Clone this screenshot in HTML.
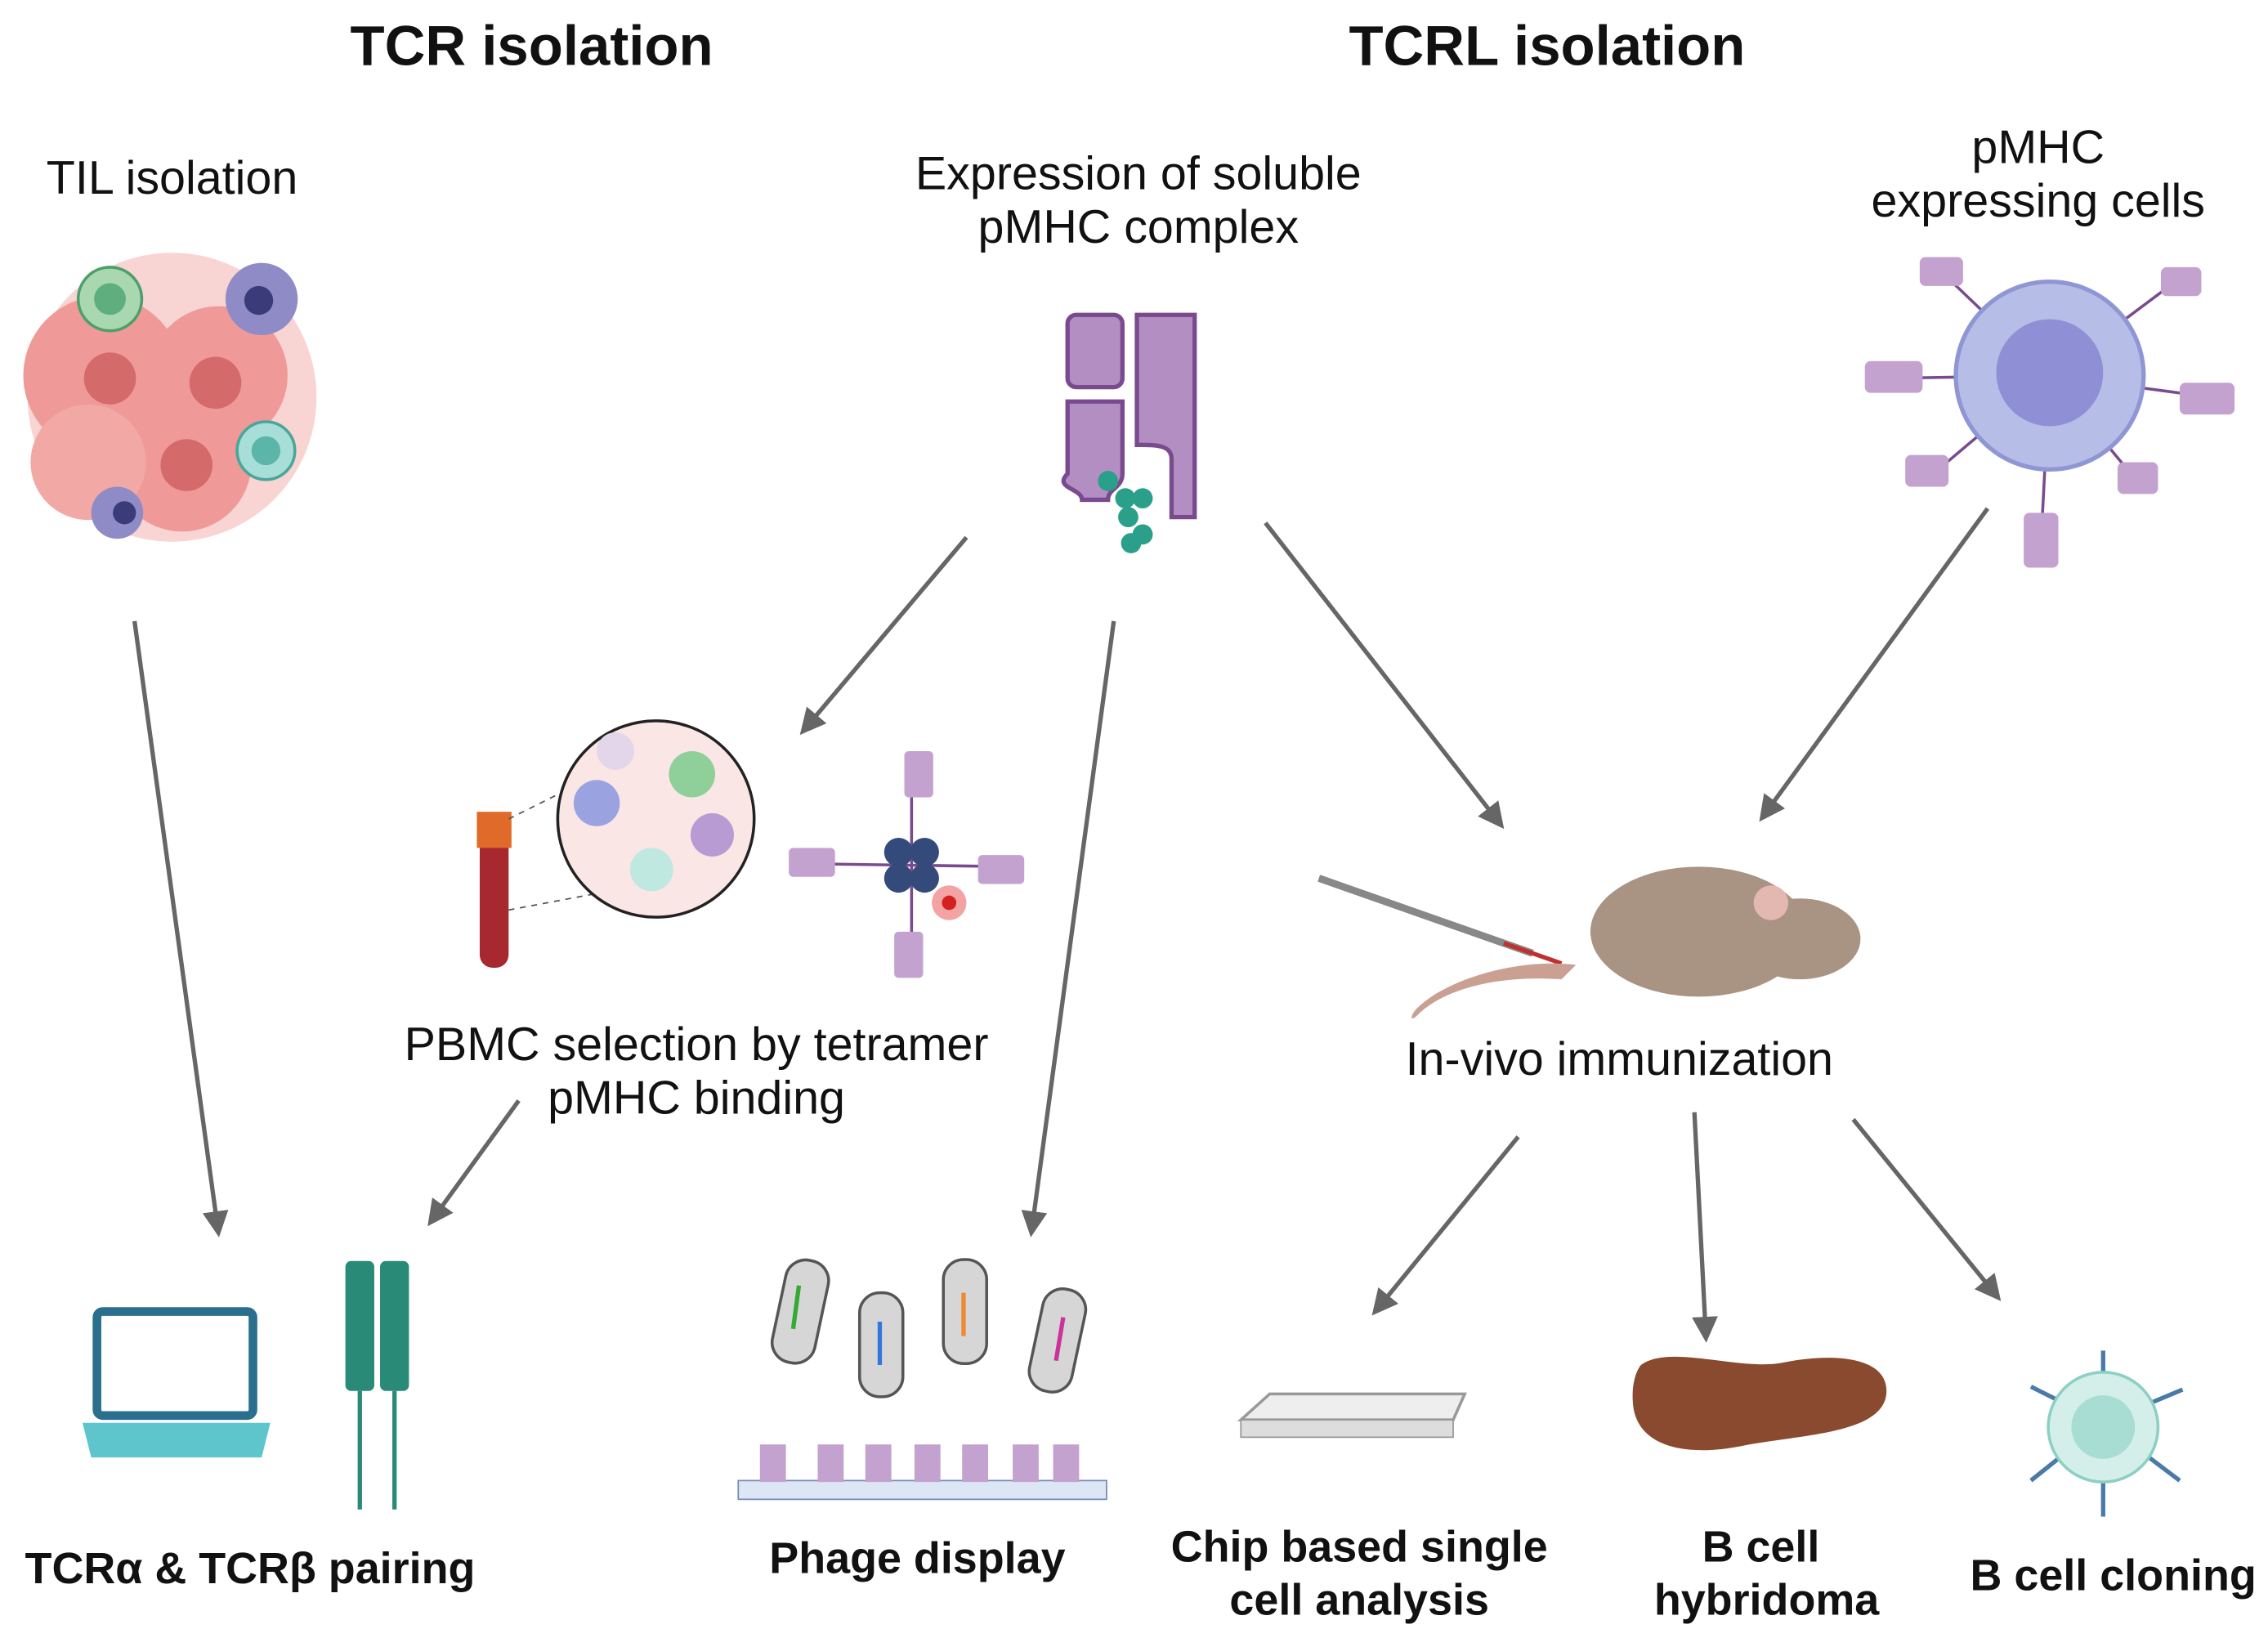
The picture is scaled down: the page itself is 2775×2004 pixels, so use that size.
<!DOCTYPE html>
<html><head><meta charset="utf-8"><style>
html,body{margin:0;padding:0;background:#fff}
svg{display:block}
text{font-family:"Liberation Sans",sans-serif;fill:#111}
.t{font-weight:bold;font-size:39px}
.l{font-size:32.5px}
.b{font-weight:bold;font-size:30.5px}
</style></head><body>
<svg width="2775" height="2004" viewBox="0 0 1568 1134" xmlns="http://www.w3.org/2000/svg">
<defs>
<marker id="a" viewBox="0 0 10 10" refX="8" refY="5" markerWidth="6" markerHeight="6" orient="auto"><path d="M0,0L10,5L0,10z" fill="#666"/></marker>
</defs>
<text class="t" x="367" y="45" text-anchor="middle">TCR isolation</text>
<text class="t" x="1070" y="45" text-anchor="middle">TCRL isolation</text>
<text class="l" x="118" y="134" text-anchor="middle">TIL isolation</text>
<text class="l" x="787" y="131" text-anchor="middle">Expression of soluble</text>
<text class="l" x="787" y="168" text-anchor="middle">pMHC complex</text>
<text class="l" x="1410" y="113" text-anchor="middle">pMHC</text>
<text class="l" x="1410" y="150" text-anchor="middle">expressing cells</text>
<text class="l" x="481" y="734" text-anchor="middle">PBMC selection by tetramer</text>
<text class="l" x="481" y="771" text-anchor="middle">pMHC binding</text>
<text class="l" x="1120" y="744" text-anchor="middle">In-vivo immunization</text>
<text class="b" x="172" y="1096" text-anchor="middle">TCRα &amp; TCRβ pairing</text>
<text class="b" x="634" y="1089" text-anchor="middle">Phage display</text>
<text class="b" x="940" y="1081" text-anchor="middle">Chip based single</text>
<text class="b" x="940" y="1118" text-anchor="middle">cell analysis</text>
<text class="b" x="1218" y="1081" text-anchor="middle">B cell</text>
<text class="b" x="1222" y="1118" text-anchor="middle">hybridoma</text>
<text class="b" x="1462" y="1101" text-anchor="middle">B cell cloning</text>
<g stroke="#666" stroke-width="3" fill="none" marker-end="url(#a)">
<line x1="92" y1="430" x2="150" y2="853"/>
<line x1="668" y1="372" x2="555" y2="506"/>
<line x1="770" y1="430" x2="713" y2="853"/>
<line x1="875" y1="362" x2="1038" y2="571"/>
<line x1="1375" y1="352" x2="1219" y2="566"/>
<line x1="358" y1="762" x2="297" y2="846"/>
<line x1="1050" y1="787" x2="951" y2="908"/>
<line x1="1172" y1="770" x2="1180" y2="926"/>
<line x1="1282" y1="775" x2="1382" y2="898"/>
</g>
<!-- tumor -->
<g>
<circle cx="118" cy="275" r="100" fill="#f4b7b4" opacity=".6"/>
<circle cx="70" cy="260" r="55" fill="#ef9a98"/><circle cx="150" cy="260" r="48" fill="#ef9a98"/>
<circle cx="125" cy="320" r="48" fill="#ef9a98"/><circle cx="60" cy="320" r="40" fill="#f2a8a5"/>
<circle cx="75" cy="262" r="18" fill="#d46a6a"/><circle cx="148" cy="265" r="18" fill="#d46a6a"/><circle cx="128" cy="322" r="18" fill="#d46a6a"/>
<circle cx="75" cy="207" r="22" fill="#a9d8b0" stroke="#4d9e6b" stroke-width="2"/><circle cx="75" cy="207" r="11" fill="#5fae7d"/>
<circle cx="180" cy="207" r="25" fill="#8e8bc6"/><circle cx="178" cy="208" r="10" fill="#3c3b7a"/>
<circle cx="183" cy="312" r="20" fill="#a8ded8" stroke="#4ba59a" stroke-width="2"/><circle cx="183" cy="312" r="10" fill="#5bb5a9"/>
<circle cx="80" cy="355" r="18" fill="#8e8bc6"/><circle cx="85" cy="355" r="8" fill="#3c3b7a"/>
</g>
<!-- pMHC complex -->
<g fill="#b38ec2" stroke="#7a4a8e" stroke-width="3">
<rect x="738" y="218" width="38" height="50" rx="6"/>
<path d="M738,278h38v50c0,10 -10,10 -10,18h-18c0,-8 -20,-8 -10,-18z" />
<path d="M786,218h40v140h-16v-40c0,-10 -10,-10 -24,-10z"/>
</g>
<g fill="#2aa08a"><circle cx="766" cy="333" r="7"/><circle cx="778" cy="345" r="7"/><circle cx="790" cy="345" r="7"/><circle cx="780" cy="358" r="7"/><circle cx="790" cy="370" r="7"/><circle cx="782" cy="376" r="7"/></g>
<!-- pMHC cell -->
<g stroke="#7a4a8e" stroke-width="2">
<line x1="1418" y1="260" x2="1345" y2="190"/><line x1="1418" y1="260" x2="1505" y2="195"/>
<line x1="1418" y1="260" x2="1300" y2="262"/><line x1="1418" y1="260" x2="1530" y2="275"/>
<line x1="1418" y1="260" x2="1335" y2="330"/><line x1="1418" y1="260" x2="1480" y2="335"/>
<line x1="1418" y1="260" x2="1412" y2="375"/>
</g>
<g fill="#c4a2d0">
<rect x="1328" y="178" width="30" height="20" rx="4"/><rect x="1495" y="185" width="28" height="20" rx="4"/>
<rect x="1290" y="250" width="40" height="22" rx="4"/><rect x="1508" y="265" width="38" height="22" rx="4"/>
<rect x="1318" y="315" width="30" height="22" rx="4"/><rect x="1465" y="320" width="28" height="22" rx="4"/>
<rect x="1400" y="355" width="24" height="38" rx="4"/>
</g>
<circle cx="1418" cy="260" r="65" fill="#b6bde6" stroke="#8f96d4" stroke-width="3"/>
<circle cx="1418" cy="258" r="37" fill="#8f8fd6"/>
<!-- blood tube + pbmc -->
<rect x="331" y="565" width="20" height="105" rx="9" fill="#a7282e"/>
<rect x="329" y="562" width="24" height="25" fill="#e06a2a"/>
<line x1="351" y1="567" x2="395" y2="545" stroke="#555" stroke-dasharray="4,4"/>
<line x1="351" y1="630" x2="415" y2="618" stroke="#555" stroke-dasharray="4,4"/>
<circle cx="453" cy="567" r="68" fill="#fbe6e6" stroke="#222" stroke-width="2"/>
<circle cx="412" cy="556" r="16" fill="#9aa3e0"/><circle cx="478" cy="536" r="16" fill="#8fcf9a"/>
<circle cx="492" cy="578" r="15" fill="#b99bd3"/><circle cx="450" cy="602" r="15" fill="#bfe8e0"/><circle cx="425" cy="520" r="13" fill="#e4d6ea"/>
<!-- tetramer -->
<g stroke="#7a4a8e" stroke-width="2"><line x1="630" y1="540" x2="630" y2="665"/><line x1="560" y1="598" x2="700" y2="600"/></g>
<g fill="#c4a2d0"><rect x="625" y="520" width="20" height="32" rx="3"/><rect x="618" y="645" width="20" height="32" rx="3"/><rect x="545" y="587" width="32" height="20" rx="3"/><rect x="676" y="592" width="32" height="20" rx="3"/></g>
<g fill="#334a7a"><circle cx="621" cy="590" r="10"/><circle cx="639" cy="590" r="10"/><circle cx="621" cy="608" r="10"/><circle cx="639" cy="608" r="10"/></g>
<circle cx="656" cy="625" r="12" fill="#f3a3a3"/><circle cx="656" cy="625" r="5" fill="#d42020"/>
<!-- mouse -->
<line x1="912" y1="608" x2="1060" y2="660" stroke="#888" stroke-width="5"/>
<line x1="1040" y1="653" x2="1080" y2="667" stroke="#c03030" stroke-width="3"/>
<path d="M1090,668c-40,-5 -90,10 -110,30c-5,5 -5,10 0,5c20,-20 60,-28 100,-25z" fill="#c9a092"/>
<ellipse cx="1175" cy="645" rx="75" ry="45" fill="#a99484"/>
<ellipse cx="1245" cy="650" rx="42" ry="28" fill="#a99484"/>
<circle cx="1225" cy="625" r="12" fill="#e2b8b0"/>
<!-- laptop -->
<rect x="66" y="908" width="108" height="72" rx="4" fill="#fff" stroke="#2a6f8e" stroke-width="6"/>
<path d="M56,985h130l-6,24h-118z" fill="#5fc5cc"/>
<!-- TCR -->
<g fill="#2a8a78"><rect x="238" y="873" width="20" height="90" rx="4"/><rect x="262" y="873" width="20" height="90" rx="4"/></g>
<g stroke="#2a8a78" stroke-width="3"><line x1="248" y1="963" x2="248" y2="1045"/><line x1="272" y1="963" x2="272" y2="1045"/></g>
<!-- phage -->
<rect x="510" y="1025" width="255" height="13" fill="#dde6f5" stroke="#7a8ab8"/>
<g fill="#c4a2d0"><rect x="525" y="1000" width="18" height="26"/><rect x="565" y="1000" width="18" height="26"/><rect x="598" y="1000" width="18" height="26"/><rect x="632" y="1000" width="18" height="26"/><rect x="665" y="1000" width="18" height="26"/><rect x="700" y="1000" width="18" height="26"/><rect x="728" y="1000" width="18" height="26"/></g>
<g fill="#d6d6d6" stroke="#555" stroke-width="2">
<rect x="538" y="872" width="30" height="72" rx="14" transform="rotate(12 553 908)"/>
<rect x="594" y="895" width="30" height="72" rx="14"/>
<rect x="652" y="872" width="30" height="72" rx="14"/>
<rect x="716" y="892" width="30" height="72" rx="14" transform="rotate(12 731 928)"/>
</g>
<g stroke-width="3"><line x1="552" y1="890" x2="548" y2="920" stroke="#3a3"/><line x1="608" y1="915" x2="608" y2="945" stroke="#37d"/><line x1="666" y1="895" x2="666" y2="925" stroke="#e83"/><line x1="735" y1="912" x2="730" y2="942" stroke="#c39"/></g>
<!-- chip -->
<path d="M858,983l20,-18h135l-8,18z" fill="#eee" stroke="#999" stroke-width="2"/>
<rect x="858" y="983" width="147" height="12" fill="#ddd" stroke="#999"/>
<!-- spleen -->
<path d="M1135,945c20,-15 70,5 100,-2c30,-6 70,-5 70,20c0,30 -60,30 -100,38c-40,8 -70,0 -75,-25c-2,-12 0,-25 5,-31z" fill="#8a4a30"/>
<!-- B cell -->
<g stroke="#4a7aa8" stroke-width="3">
<line x1="1455" y1="985" x2="1455" y2="935"/><line x1="1455" y1="985" x2="1455" y2="1050"/>
<line x1="1455" y1="985" x2="1405" y2="960"/><line x1="1455" y1="985" x2="1510" y2="962"/>
<line x1="1455" y1="985" x2="1405" y2="1025"/><line x1="1455" y1="985" x2="1508" y2="1025"/>
</g>
<circle cx="1455" cy="988" r="38" fill="#d4efea" stroke="#8ccfc3" stroke-width="2"/>
<circle cx="1455" cy="988" r="22" fill="#a8ddd3"/>
</svg>
</body></html>
